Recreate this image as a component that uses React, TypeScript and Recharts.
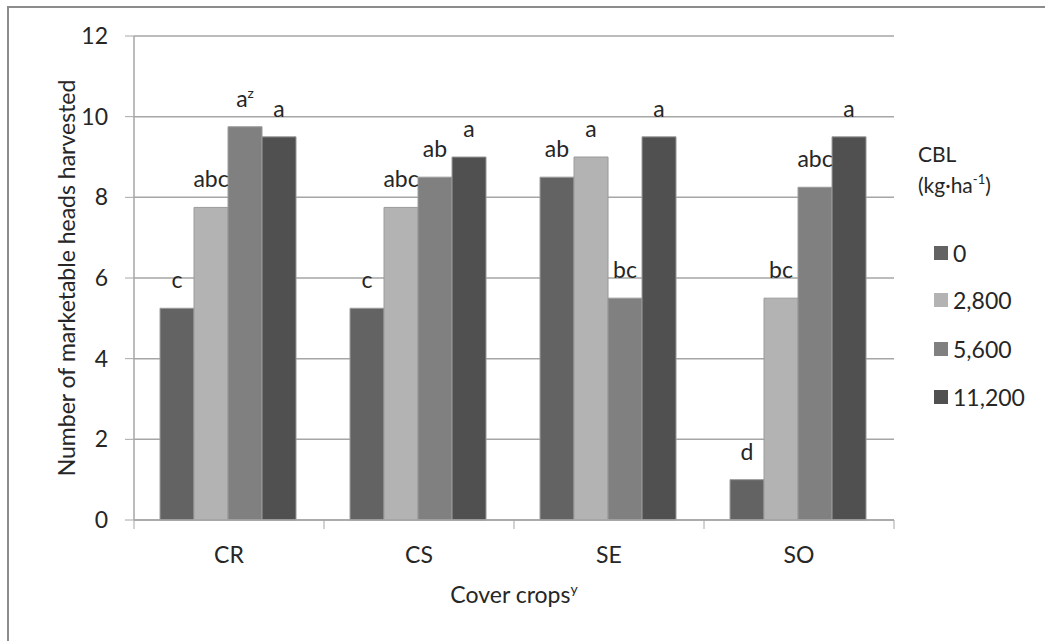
import React from 'react';
import { BarChart, Bar, XAxis, YAxis, CartesianGrid, LabelList, Label } from 'recharts';

const categories = ['CR', 'CS', 'SE', 'SO'];
const doses = ['0', '2,800', '5,600', '11,200'];
const heads0 = [5.25, 5.25, 8.5, 1];
const heads2800 = [7.75, 7.75, 9, 5.5];
const heads5600 = [9.75, 8.5, 5.5, 8.25];
const heads11200 = [9.5, 9, 9.5, 9.5];
const letters0 = ['c', 'c', 'ab', 'd'];
const letters2800 = ['abc', 'abc', 'a', 'bc'];
const letters5600 = ['a^z', 'ab', 'bc', 'abc'];
const letters11200 = ['a', 'a', 'a', 'a'];
const yTicks = [0, 2, 4, 6, 8, 10, 12];
const colors = ['#636363', '#b3b3b3', '#808080', '#505050'];

const seriesValues = [heads0, heads2800, heads5600, heads11200];
const seriesLetters = [letters0, letters2800, letters5600, letters11200];

const data = categories.map((c, i) => {
  const row: any = { cat: c };
  doses.forEach((d, j) => {
    row['v' + j] = seriesValues[j][i];
    row['l' + j] = seriesLetters[j][i];
  });
  return row;
});

const FONT = 'Lato, "Open Sans", sans-serif';
const TEXT = '#262626';
const GRID = '#a6a6a6';

const renderLetter = (props: any) => {
  const x = Number(props.x);
  const y = Number(props.y);
  const w = Number(props.width);
  const [base, sup] = String(props.value).split('^');
  return (
    <text x={x + w / 2} y={y - 20} textAnchor="middle" fontSize={23} fill={TEXT} fontFamily={FONT}>
      {base}
      {sup ? <tspan dy={-9} fontSize={14}>{sup}</tspan> : null}
    </text>
  );
};

const XTick = (props: any) => {
  const { x, y, payload, index } = props;
  const off = payload && payload.offset ? payload.offset : 95;
  const isLast = index === categories.length - 1;
  return (
    <g>
      <line x1={x - off} x2={x - off} y1={y} y2={y + 9} stroke={GRID} />
      {isLast ? <line x1={x + off} x2={x + off} y1={y} y2={y + 9} stroke={GRID} /> : null}
      <text x={x} y={y + 43} textAnchor="middle" fontSize={23} fill={TEXT} fontFamily={FONT}>
        {payload.value}
      </text>
    </g>
  );
};

const XLabel = (props: any) => {
  const vb = props.viewBox || {};
  return (
    <text x={vb.x + vb.width / 2} y={vb.y + 83} textAnchor="middle" fontSize={23} fill={TEXT} fontFamily={FONT}>
      Cover crops<tspan dy={-9} fontSize={14}>y</tspan>
    </text>
  );
};

const rowTops = [253, 300, 349, 397];

export default function App() {
  return (
    <div style={{ position: 'absolute', left: 0, top: 0, width: 1045, height: 641, background: '#fff', fontFamily: FONT, overflow: 'hidden' }}>
      <div style={{ position: 'absolute', left: 7, top: 6, width: 1100, height: 700, borderLeft: '2px solid #8c8c8c', borderTop: '2px solid #8c8c8c' }} />
      <div style={{ position: 'absolute', left: 0, top: 0 }}>
        <BarChart width={1045} height={641} data={data} margin={{ top: 36, right: 151, bottom: 0, left: 0 }} barCategoryGap="13.7%" barGap={0}>
          <CartesianGrid vertical={false} stroke={GRID} strokeWidth={1.5} />
          <XAxis dataKey="cat" height={121} tickLine={false} tickSize={0} tickMargin={0} axisLine={{ stroke: GRID, strokeWidth: 1.5 }} tick={<XTick />} interval={0}>
            <Label content={<XLabel />} />
          </XAxis>
          <YAxis
            width={134}
            domain={[0, 12]}
            ticks={yTicks}
            tickSize={9}
            tickMargin={17}
            tickLine={{ stroke: GRID }}
            axisLine={{ stroke: GRID, strokeWidth: 1.5 }}
            tick={{ fontSize: 23, fill: TEXT, fontFamily: FONT }}
            label={{ value: 'Number of marketable heads harvested', angle: -90, position: 'center', style: { fontSize: 23, fill: TEXT, fontFamily: FONT, textAnchor: 'middle' } }}
          />
          {doses.map((d, j) => (
            <Bar key={d} dataKey={'v' + j} name={d} fill={colors[j]} stroke="#9a9a9a" strokeWidth={1} isAnimationActive={false}>
              <LabelList dataKey={'l' + j} content={renderLetter} />
            </Bar>
          ))}
        </BarChart>
      </div>
      <div style={{ position: 'absolute', left: 918, top: 138, fontSize: 21, color: TEXT, lineHeight: '31px' }}>
        <div>CBL</div>
        <div>(kg·ha<sup style={{ fontSize: 13, verticalAlign: 'top', lineHeight: '20px' }}>-1</sup>)</div>
      </div>
      {doses.map((d, j) => (
        <div key={d} style={{ position: 'absolute', left: 934, top: rowTops[j] - 15, height: 30, display: 'flex', alignItems: 'center', fontSize: 23, color: TEXT }}>
          <span style={{ display: 'inline-block', width: 14, height: 14, background: colors[j], marginRight: 5 }} />
          <span>{d}</span>
        </div>
      ))}
    </div>
  );
}
